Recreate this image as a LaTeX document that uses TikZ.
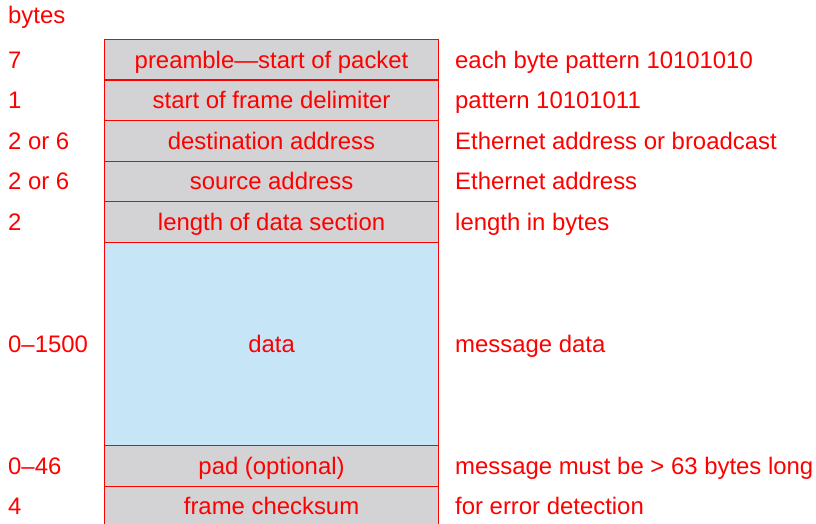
\documentclass[tikz,border=0pt]{standalone}
\usepackage{fontspec}
\setmainfont{Liberation Sans}
\begin{document}
\begin{tikzpicture}[x=1pt,y=-1pt,
  every node/.style={text=fieldred, font=\fontsize{23.9}{26}\selectfont, inner sep=0pt, text height=17pt, text depth=0pt},
  field/.style={draw=fieldred, line width=1.1pt, minimum width=334pt, anchor=north west, fill=fieldgray},
  lbl/.style={anchor=west}]
\definecolor{fieldred}{RGB}{255,0,0}
\definecolor{fieldgray}{RGB}{211,211,213}
\definecolor{fieldblue}{RGB}{198,230,248}
\useasboundingbox (0,0) rectangle (816,524);
\def\rh{40.5}
\node[field, minimum height=\rh pt] (f1) at (104,39) {preamble—start of packet};
\node[field, minimum height=\rh pt] (f2) at (104,79.5) {start of frame delimiter};
\node[field, minimum height=\rh pt] (f3) at (104,120) {destination address};
\node[field, minimum height=\rh pt] (f4) at (104,160.5) {source address};
\node[field, minimum height=\rh pt] (f5) at (104,201) {length of data section};
\node[field, minimum height=203.5pt, fill=fieldblue] (f6) at (104,241.5) {data};
\node[field, minimum height=\rh pt] (f7) at (104,445) {pad (optional)};
\node[field, minimum height=\rh pt] (f8) at (104,485.5) {frame checksum};
\coordinate (L) at (8,0);
\coordinate (R) at (455,0);
\node[lbl] (hb) at (8,15.5) {bytes};
\node[lbl] (b1) at (L |- f1.center) {7};
\node[lbl] (b2) at (L |- f2.center) {1};
\node[lbl] (b3) at (L |- f3.center) {2 or 6};
\node[lbl] (b4) at (L |- f4.center) {2 or 6};
\node[lbl] (b5) at (L |- f5.center) {2};
\node[lbl] (b6) at (L |- f6.center) {0–1500};
\node[lbl] (b7) at (L |- f7.center) {0–46};
\node[lbl] (b8) at (L |- f8.center) {4};
\node[lbl] (d1) at (R |- f1.center) {each byte pattern 10101010};
\node[lbl] (d2) at (R |- f2.center) {pattern 10101011};
\node[lbl] (d3) at (R |- f3.center) {Ethernet address or broadcast};
\node[lbl] (d4) at (R |- f4.center) {Ethernet address};
\node[lbl] (d5) at (R |- f5.center) {length in bytes};
\node[lbl] (d6) at (R |- f6.center) {message data};
\node[lbl] (d7) at (R |- f7.center) {message must be > 63 bytes long};
\node[lbl] (d8) at (R |- f8.center) {for error detection};
\end{tikzpicture}
\end{document}
